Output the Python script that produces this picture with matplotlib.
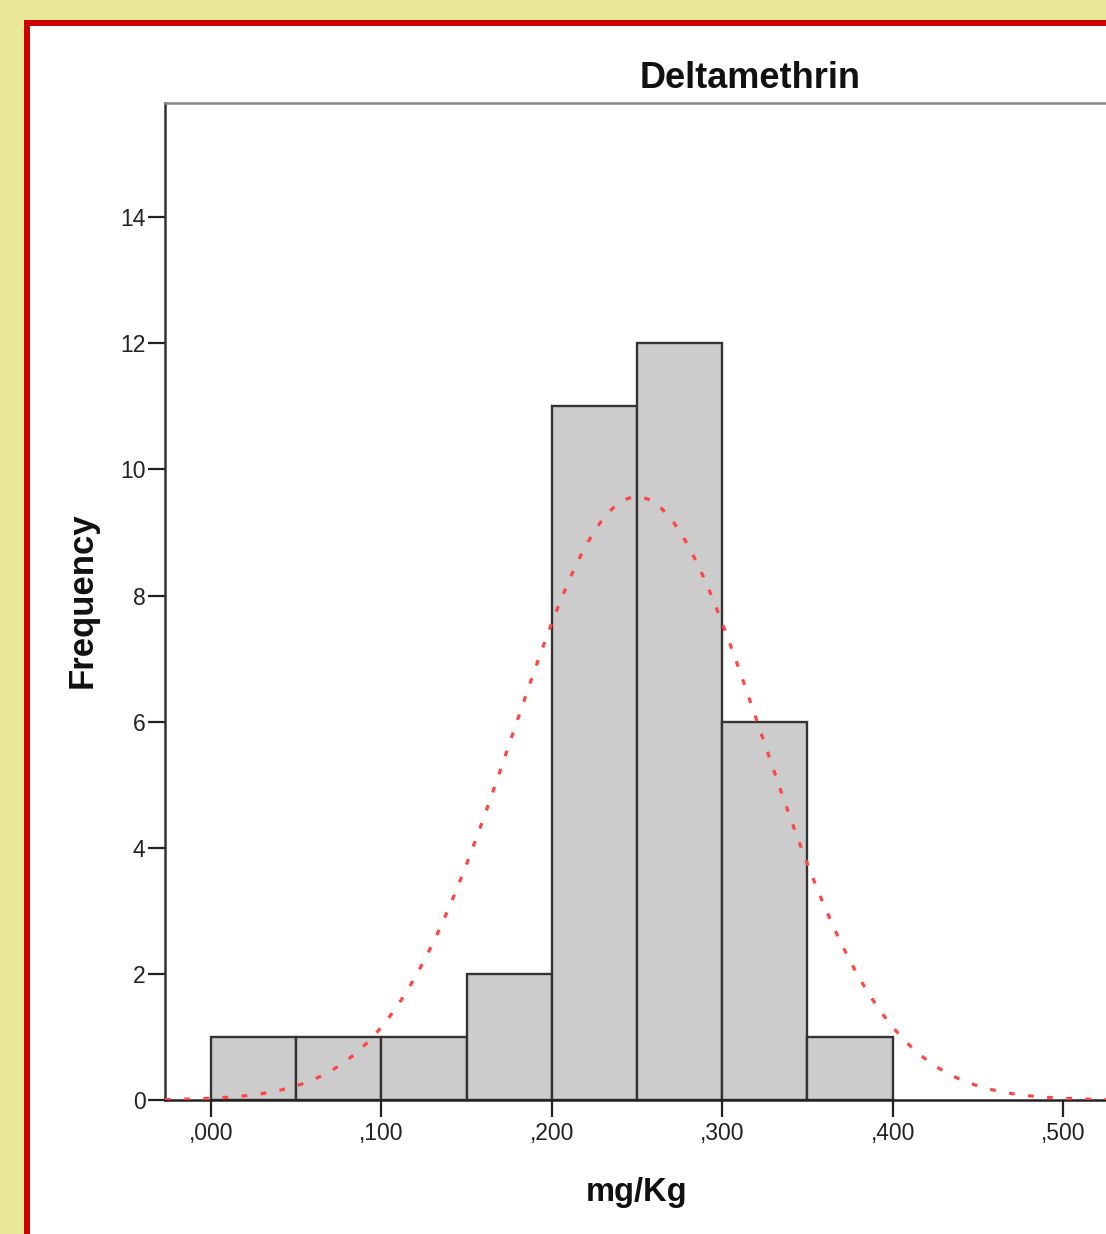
import numpy as np
import matplotlib
matplotlib.use("Agg")
import matplotlib.pyplot as plt
from matplotlib.patches import Rectangle

plt.rcParams['font.family'] = ['Liberation Sans', 'DejaVu Sans']

# histogram of deltamethrin residues (mg/Kg), 50-unit bins
bin_edges = [0, 50, 100, 150, 200, 250, 300, 350, 400]
counts = [1, 1, 1, 2, 11, 12, 6, 1]
# fitted normal curve parameters
fit_mean = 250.0
fit_sd = 73.0
n_total = sum(counts)

xtick_vals = [0, 100, 200, 300, 400, 500]
xtick_labels = [',000', ',100', ',200', ',300', ',400', ',500']
ytick_vals = [0, 2, 4, 6, 8, 10, 12, 14]

W, H = 1106, 1234
fig = plt.figure(figsize=(W / 100, H / 100), dpi=100)
fig.patch.set_facecolor('#e8e896')

# white panel with red frame, kept behind the axes
frame = Rectangle((27 / W, -0.2), 1.5, (H - 23) / H + 0.2, transform=fig.transFigure,
                  facecolor='white', edgecolor='#cc0000', linewidth=4.3, zorder=-10)
fig.patches.append(frame)

ax = fig.add_axes([165 / W, (H - 1100) / H, (1335 - 165) / W, (1100 - 103) / H])
ax.set_facecolor('white')

widths = np.diff(bin_edges)
ax.bar(bin_edges[:-1], counts, width=widths, align='edge', color='#cccccc',
       edgecolor='#333333', linewidth=1.7, zorder=2)

x = np.linspace(-27, 660, 600)
binw = widths[0]
y = n_total * binw / (fit_sd * np.sqrt(2 * np.pi)) * np.exp(-0.5 * ((x - fit_mean) / fit_sd) ** 2)
ax.plot(x, y, color='#ff4545', linewidth=2.3, linestyle=(0, (1.8, 4.2)), zorder=3)

ax.set_xlim(-27.0, 659.6)
ax.set_ylim(0, 15.81)
ax.set_xticks(xtick_vals)
ax.set_xticklabels(xtick_labels)
ax.set_yticks(ytick_vals)
ax.tick_params(axis='both', direction='out', length=12, width=1.6, labelsize=16.5,
               colors='#222222')
ax.tick_params(axis='x', pad=4)
ax.tick_params(axis='y', pad=2)

ax.spines['right'].set_visible(False)
ax.spines['left'].set_color('#333333')
ax.spines['bottom'].set_color('#222222')
ax.spines['top'].set_color('#888888')
for s in ('left', 'bottom', 'top'):
    ax.spines[s].set_linewidth(1.8)

fig.text(750 / W, 1 - 78 / H, 'Deltamethrin', ha='center', va='center',
         fontsize=26, fontweight='bold', color='#111111')
fig.text(637 / W, 1 - 1193 / H, 'mg/Kg', ha='center', va='center',
         fontsize=23.5, fontweight='bold', color='#111111')
fig.text(82 / W, 1 - 600 / H, 'Frequency', ha='center', va='center', rotation=90,
         fontsize=25, fontweight='bold', color='#111111')

fig.savefig('out.png', dpi=100)
